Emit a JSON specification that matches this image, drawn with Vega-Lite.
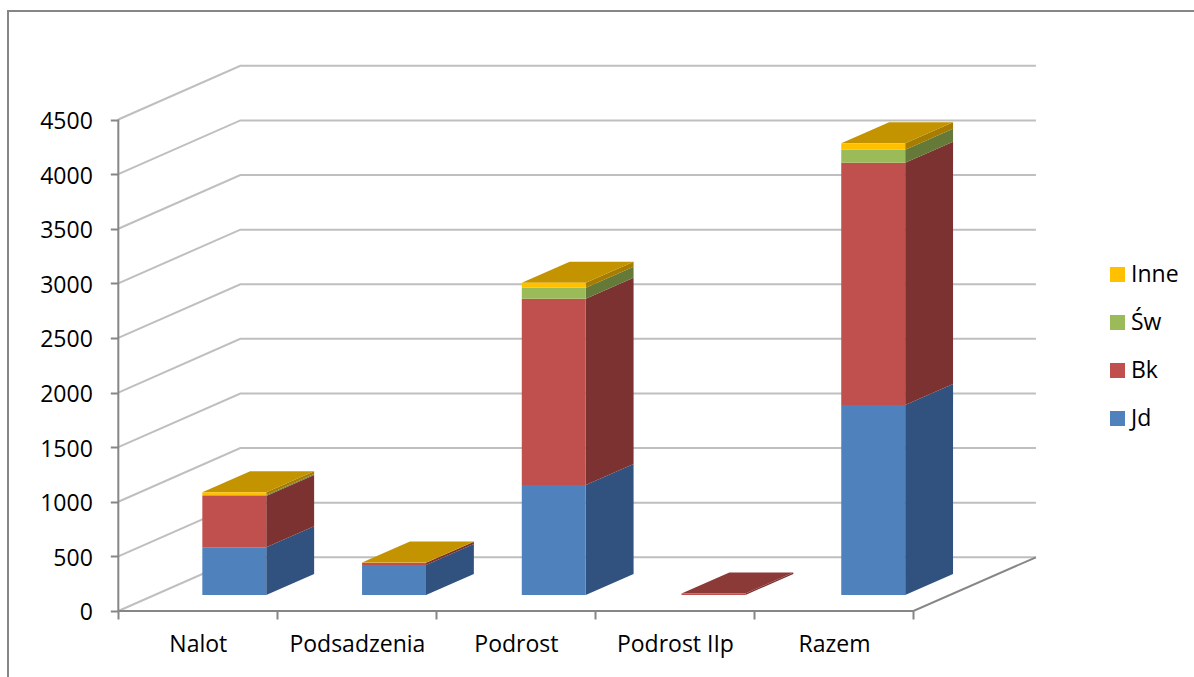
{
"$schema":"https://vega.github.io/schema/vega-lite/v6.json",
"width":1188,"height":668,
"autosize":{"type":"none"},
"padding":{"left":8,"top":11,"right":0,"bottom":0},
"background":"white",
"view":{"stroke":"#868686","strokeWidth":2,"fill":"white"},
"config":{"font":"Open Sans"},
"resolve":{"scale":{"color":"independent"},"axis":{"x":"independent","y":"independent"}},
"layer":[
{"data":{"values":[{"tick":0},{"tick":500},{"tick":1000},{"tick":1500},{"tick":2000},{"tick":2500},{"tick":3000},{"tick":3500},{"tick":4000},{"tick":4500}]},
 "transform":[{"calculate":"[0,1,2]","as":"edge"},{"flatten":["edge"]},
  {"calculate":"datum.edge==0?0:(datum.edge==1?0.7673:5.77)","as":"gx"},
  {"calculate":"datum.tick+(datum.edge==0?0:491.7)","as":"gy"}],
 "mark":{"type":"line","color":"#BFBFBF","strokeWidth":2},
 "encoding":{
  "x":{"field":"gx","type":"quantitative","scale":{"domain":[-0.6937,6.7767],"nice":false,"zero":false},
   "axis":{"orient":"bottom","offset":-68,"title":null,"grid":false,"domain":false,"values":[0,0.5,1,1.5,2,2.5,3,3.5,4,4.5,5],
    "tickColor":"#868686","tickWidth":2,"tickSize":8,"tickOpacity":{"expr":"datum.value%1===0?1:0"},
    "labelExpr":"datum.value%1===0?'':['Nalot','Podsadzenia','Podrost','Podrost IIp','Razem'][floor(datum.value)]",
    "labelFont":"Open Sans","labelFontSize":23,"labelColor":"#000000","labelPadding":14,"labelOverlap":false,"labelFlush":false,"labelBound":false}},
  "y":{"field":"gy","type":"quantitative","stack":null,"scale":{"domain":[-622.6,5493.5],"nice":false,"zero":false},
   "axis":{"orient":"left","offset":-110.3,"title":null,"grid":false,"domain":false,"values":[0,500,1000,1500,2000,2500,3000,3500,4000,4500],"format":"d",
    "tickColor":"#868686","tickWidth":2,"tickSize":8,
    "labelFont":"Open Sans","labelFontSize":23,"labelColor":"#000000","labelPadding":18,"labelOffset":2,"labelOverlap":false,"labelBound":false}},
  "detail":{"field":"tick"}
 }},
{"data":{"values":[{"edge":0,"fx":0,"fy":4500,"part":"wall"},{"edge":1,"fx":0,"fy":0,"part":"wall"},{"edge":0,"fx":0,"fy":0,"part":"floor"},{"edge":1,"fx":5,"fy":0,"part":"floor"},{"edge":2,"fx":5.77,"fy":491.7,"part":"floor"}]},
 "mark":{"type":"line","color":"#868686","strokeWidth":2},
 "encoding":{
  "x":{"field":"fx","type":"quantitative","scale":{"domain":[-0.6937,6.7767],"nice":false,"zero":false},"axis":null},
  "y":{"field":"fy","type":"quantitative","stack":null,"scale":{"domain":[-622.6,5493.5],"nice":false,"zero":false},"axis":null},
  "detail":{"field":"part"},
  "order":{"field":"edge"}
 }},
{"data":{"values":[
 {"category":"Nalot","series":"Jd","value":437},{"category":"Nalot","series":"Bk","value":470},{"category":"Nalot","series":"Św","value":8},{"category":"Nalot","series":"Inne","value":26},
 {"category":"Podsadzenia","series":"Jd","value":275},{"category":"Podsadzenia","series":"Bk","value":21},{"category":"Podsadzenia","series":"Św","value":0},{"category":"Podsadzenia","series":"Inne","value":2},
 {"category":"Podrost","series":"Jd","value":1007},{"category":"Podrost","series":"Bk","value":1706},{"category":"Podrost","series":"Św","value":101},{"category":"Podrost","series":"Inne","value":46},
 {"category":"Podrost IIp","series":"Jd","value":0},{"category":"Podrost IIp","series":"Bk","value":14},{"category":"Podrost IIp","series":"Św","value":0},{"category":"Podrost IIp","series":"Inne","value":0},
 {"category":"Razem","series":"Jd","value":1740},{"category":"Razem","series":"Bk","value":2218},{"category":"Razem","series":"Św","value":119},{"category":"Razem","series":"Inne","value":59}
 ]},
 "transform":[
  {"filter":"datum.value>0"},
  {"calculate":"indexof(['Nalot','Podsadzenia','Podrost','Podrost IIp','Razem'],datum.category)","as":"idx"},
  {"calculate":"indexof(['Jd','Bk','Św','Inne'],datum.series)","as":"ord"},
  {"stack":"value","groupby":["category"],"sort":[{"field":"ord","order":"ascending"}],"as":["v0","v1"]},
  {"calculate":"0.5283+1.0044*datum.idx","as":"xl"},
  {"calculate":"datum.xl+0.402","as":"xr"},
  {"calculate":"datum.v0+146.5","as":"yb"},
  {"calculate":"datum.v1+146.5","as":"yt"}
 ],
 "resolve":{"scale":{"color":"independent"},"axis":{"x":"independent","y":"independent"}},
 "layer":[
  {"transform":[{"calculate":"[0,1]","as":"edge"},{"flatten":["edge"]},
    {"calculate":"datum.xr+datum.edge*0.301","as":"sx"},
    {"calculate":"datum.yb+datum.edge*192.3","as":"sb"},
    {"calculate":"datum.yt+datum.edge*192.3","as":"st"}],
   "mark":{"type":"area","orient":"vertical"},
   "encoding":{
    "x":{"field":"sx","type":"quantitative","scale":{"domain":[-0.6937,6.7767],"nice":false,"zero":false},"axis":null},
    "y":{"field":"st","type":"quantitative","stack":null,"scale":{"domain":[-622.6,5493.5],"nice":false,"zero":false},"axis":null},
    "y2":{"field":"sb"},
    "detail":[{"field":"category"},{"field":"series"}],
    "color":{"field":"series","type":"nominal","legend":null,"scale":{"domain":["Jd","Bk","Św","Inne"],"range":["#31527F","#7C3230","#657A38","#A67D00"]}}
   }},
  {"transform":[{"joinaggregate":[{"op":"max","field":"ord","as":"topOrd"}],"groupby":["category"]},
    {"filter":"datum.ord==datum.topOrd"},
    {"calculate":"[0,1]","as":"edge"},{"flatten":["edge"]},
    {"calculate":"datum.xl+datum.edge*0.301","as":"ta"},
    {"calculate":"datum.xr+datum.edge*0.301","as":"tb"},
    {"calculate":"datum.yt+datum.edge*192.3","as":"ty"}],
   "mark":{"type":"area","orient":"horizontal"},
   "encoding":{
    "y":{"field":"ty","type":"quantitative","stack":null,"scale":{"domain":[-622.6,5493.5],"nice":false,"zero":false},"axis":null},
    "x":{"field":"ta","type":"quantitative","stack":null,"scale":{"domain":[-0.6937,6.7767],"nice":false,"zero":false},"axis":null},
    "x2":{"field":"tb"},
    "detail":{"field":"category"},
    "color":{"field":"series","type":"nominal","legend":null,"scale":{"domain":["Jd","Bk","Św","Inne"],"range":["#3B618E","#8B3A38","#75903F","#C39400"]}}
   }},
  {"mark":{"type":"rect"},
   "encoding":{
    "x":{"field":"xl","type":"quantitative","scale":{"domain":[-0.6937,6.7767],"nice":false,"zero":false},"axis":null},
    "x2":{"field":"xr"},
    "y":{"field":"yt","type":"quantitative","stack":null,"scale":{"domain":[-622.6,5493.5],"nice":false,"zero":false},"axis":null},
    "y2":{"field":"yb"},
    "color":{"field":"series","type":"nominal","scale":{"domain":["Jd","Bk","Św","Inne"],"range":["#4F81BD","#C0504D","#9BBB59","#FFC000"]},
     "legend":{"orient":"none","legendX":1098,"legendY":252,"title":null,"values":["Inne","Św","Bk","Jd"],"symbolType":"square","symbolSize":225,"symbolStrokeWidth":0,"labelFont":"Open Sans","labelFontSize":23,"labelColor":"#000000","labelOffset":2,"rowPadding":24,"padding":0}}
   }}
 ]}
]
}
